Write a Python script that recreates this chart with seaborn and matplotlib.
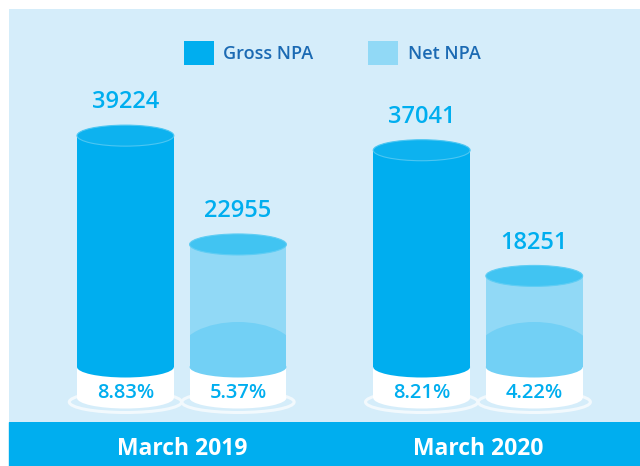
import pandas as pd
import seaborn as sns
import matplotlib.pyplot as plt
from matplotlib.patches import Ellipse, Rectangle

# Data
perioder = ["March 2019", "March 2020"]
typer = ["Gross NPA", "Net NPA"]
gross_npa = [39224, 37041]
net_npa = [22955, 18251]
gross_pct = ["8.83%", "8.21%"]
net_pct = ["5.37%", "4.22%"]

# Colours
bakgrunn = "#D5EDFA"
gross_farge = "#00AEEF"
net_farge = "#91D9F6"
net_bunn = "#72D0F5"
net_topp = "#41C4F2"
gross_topp = "#0DB2EF"
tekst_blaa = "#1B6AB3"

df = pd.DataFrame({
    "periode": perioder * 2,
    "type": [typer[0]] * 2 + [typer[1]] * 2,
    "verdi": gross_npa + net_npa,
})

sns.set_theme(style="white")
plt.rcParams["font.family"] = ["Open Sans", "DejaVu Sans"]

fig = plt.figure(figsize=(6.4, 4.66), dpi=100)
W, H = 640, 466
# light blue panel (x 9..640, y 9..422 in pixels)
ax = fig.add_axes([9 / W, (H - 422) / H, 631 / W, 413 / H])
ax.set_facecolor(bakgrunn)

# bottom band
fig.patches.append(Rectangle((9 / W, 0), 631 / W, (H - 422) / H,
                             transform=fig.transFigure, color=gross_farge, zorder=-1))

sns.barplot(data=df, x="periode", y="verdi", hue="type", order=perioder,
            hue_order=typer, palette=[gross_farge, net_farge], width=0.76,
            gap=0.14, errorbar=None, saturation=1, ax=ax, zorder=2)

# scale: 1 pixel = u data units
u = 149.5
ax.set_ylim(-24 * u, 389 * u)
ax.set_xlim(-0.583, 1.547)
ell_h = 21 * u

for i, container in enumerate(ax.containers):
    pct = gross_pct if i == 0 else net_pct
    for bar, p in zip(container.patches, pct):
        x0, w, h = bar.get_x(), bar.get_width(), bar.get_height()
        xc = x0 + w / 2
        bar.set_edgecolor("none")
        bar.set_linewidth(0)
        kropp = gross_farge if i == 0 else net_bunn

        # ring on the floor
        ax.add_patch(Ellipse((xc, -4 * u), w * 1.16, ell_h, facecolor="none",
                             edgecolor="#F2F9FD", lw=2.2, zorder=1))

        if i == 1:
            # darker liquid dome in the light cylinder
            dome = Ellipse((xc, 46 * u), w * 1.2, 60 * u, color=net_bunn, zorder=3, lw=0)
            ax.add_patch(dome)
            dome.set_clip_path(bar)
            fyll = Rectangle((x0, 31 * u), w, 15 * u, color=net_bunn, zorder=3, lw=0)
            ax.add_patch(fyll)
            fyll.set_clip_path(bar)

        # white foot
        ax.add_patch(Ellipse((xc, 0), w, ell_h, color="white", zorder=4, lw=0))
        ax.add_patch(Rectangle((x0, 0), w, 31 * u, color="white", zorder=4, lw=0))
        ax.add_patch(Ellipse((xc, 31 * u), w, ell_h, color=kropp, zorder=5, lw=0))

        # top cap
        topp = gross_topp if i == 0 else net_topp
        ax.add_patch(Ellipse((xc, h), w, ell_h, facecolor=topp,
                             edgecolor="#4CC6F2" if i == 0 else "#5FCDF4",
                             lw=0.8, zorder=6))

        ax.annotate(f"{int(h)}", (xc, h), xytext=(0, 24), textcoords="offset points",
                    ha="center", va="center", fontsize=17, fontweight="semibold",
                    color=gross_farge, zorder=7)
        ax.text(xc, 5 * u, p, ha="center", va="center", fontsize=14.5,
                fontweight="semibold", color=gross_farge, zorder=7)

ax.set_xticks([0, 1])
ax.set_xticklabels(perioder, color="white", fontsize=16.5, fontweight="bold")
ax.tick_params(axis="x", length=0, pad=11)
ax.set_yticks([])
ax.set_xlabel("")
ax.set_ylabel("")
for s in ax.spines.values():
    s.set_visible(False)

fs = 13
leg = ax.legend(loc="center", bbox_to_anchor=(332 / W, 1 - 53 / H),
                bbox_transform=fig.transFigure, ncol=2, frameon=False,
                fontsize=fs, handlelength=30 / (fs * 100 / 72),
                handleheight=30 / (fs * 100 / 72), handletextpad=0.55,
                columnspacing=3.0)
for t in leg.get_texts():
    t.set_color(tekst_blaa)
    t.set_fontweight("semibold")
for hnd in leg.legend_handles:
    hnd.set_edgecolor("none")
    hnd.set_linewidth(0)

fig.savefig("out.png", dpi=100, facecolor="white")
